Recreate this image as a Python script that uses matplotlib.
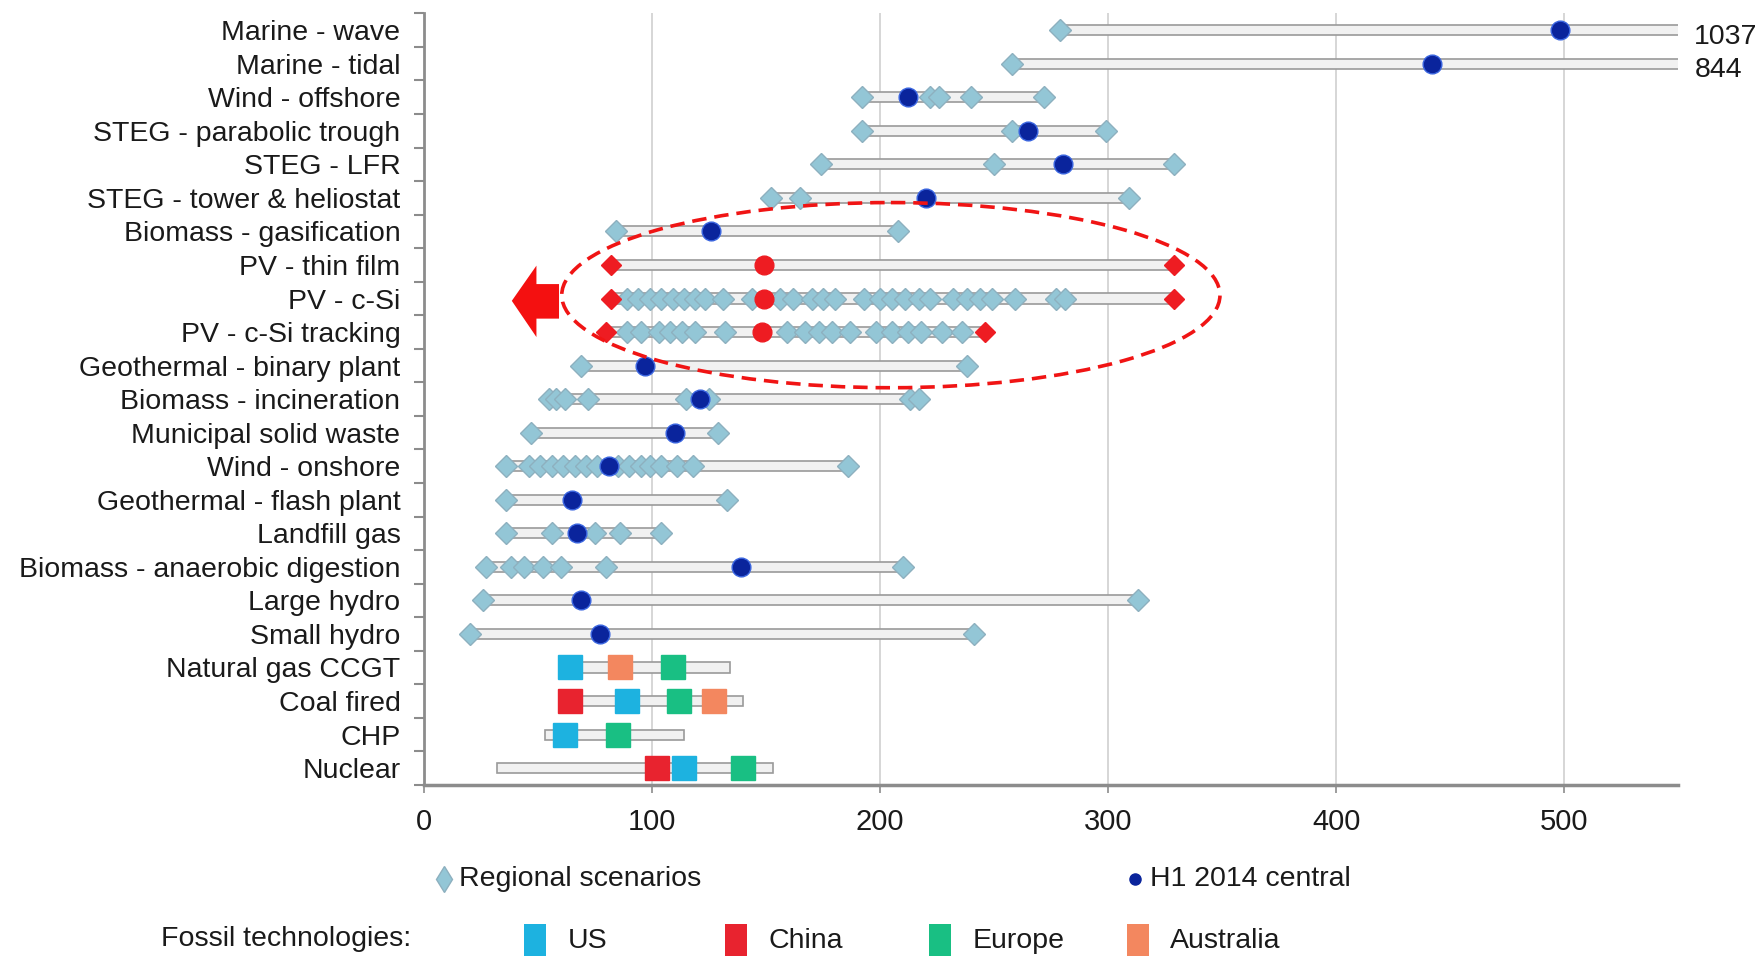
import matplotlib
matplotlib.use("Agg")
import matplotlib.pyplot as plt
from matplotlib.patches import Ellipse, Polygon, Rectangle
from matplotlib.lines import Line2D
import numpy as np

plt.rcParams['font.family'] = ['Liberation Sans', 'DejaVu Sans']

# Technologies, top to bottom
categories = [
    "Marine - wave", "Marine - tidal", "Wind - offshore",
    "STEG - parabolic trough", "STEG - LFR", "STEG - tower & heliostat",
    "Biomass - gasification", "PV - thin film", "PV - c-Si",
    "PV - c-Si tracking", "Geothermal - binary plant",
    "Biomass - incineration", "Municipal solid waste", "Wind - onshore",
    "Geothermal - flash plant", "Landfill gas",
    "Biomass - anaerobic digestion", "Large hydro", "Small hydro",
    "Natural gas CCGT", "Coal fired", "CHP", "Nuclear",
]

# LCOE range per technology ($/MWh)
range_low = [279, 258, 192, 192, 174, 152, 84, 82, 82, 80, 69, 55, 47, 36,
             36, 35, 27, 26, 20, 60, 64, 53, 32]
range_high = [1037, 844, 272, 299, 329, 309, 208, 329, 329, 246, 238, 217,
              129, 186, 133, 104, 210, 313, 241, 134, 140, 114, 153]

# H1 2014 central estimates (renewables only)
central = [498, 442, 212, 265, 280, 220, 126, 149, 149, 148, 97, 121, 110,
           81, 65, 67, 139, 69, 77, None, None, None, None]

# Regional scenario estimates
regional_scenarios = [
    [279],
    [258],
    [192, 222, 226, 240, 272],
    [192, 258, 299],
    [174, 250, 329],
    [152, 165, 309],
    [84, 208],
    [82, 329],
    [82, 89, 94, 99, 104, 109, 114, 119, 123, 131, 144, 156, 162, 170, 175,
     180, 193, 200, 205, 211, 217, 222, 232, 238, 244, 249, 259, 277, 281, 329],
    [80, 89, 95, 103, 108, 113, 119, 132, 159, 167, 173, 179, 187, 198, 205,
     212, 218, 227, 236, 246],
    [69, 238],
    [55, 58, 62, 72, 115, 125, 213, 217],
    [47, 129],
    [36, 46, 51, 56, 61, 66, 71, 76, 85, 90, 95, 99, 104, 111, 118, 186],
    [36, 133],
    [36, 56, 75, 86, 104],
    [27, 38, 44, 52, 60, 80, 210],
    [26, 313],
    [20, 241],
    [], [], [], [],
]

# Solar PV rows are highlighted in red
highlight_rows = ["PV - thin film", "PV - c-Si", "PV - c-Si tracking"]

# Fossil technology costs by region
fossil_categories = ["Natural gas CCGT", "Coal fired", "CHP", "Nuclear"]
fossil_us = [64, 89, 62, 114]
fossil_china = [None, 64, None, 102]
fossil_europe = [109, 112, 85, 140]
fossil_australia = [86, 127, None, None]

# Values beyond the axis limit, printed at the bar end
clipped_labels = ["1037", "844"]

c_diamond = "#93c6d6"
c_diamond_edge = "#8db0bf"
c_central = "#0a249c"
c_red = "#ee1c22"
c_us = "#1db2e0"
c_china = "#e8232f"
c_europe = "#19bf83"
c_aus = "#f3875f"

FS = 20.5

fig = plt.figure(figsize=(17.63, 9.56), dpi=100)
ax = fig.add_axes([0.2405, 0.179, 0.7115, 0.807])

y = np.arange(len(categories))
ax.set_xlim(0, 550)
ax.set_ylim(len(categories) - 0.5, -0.5)

# range bars
ax.barh(y, np.array(range_high) - np.array(range_low), left=range_low,
        height=0.3, color="#f1f1f1", edgecolor="#9a9a9a", linewidth=1.2,
        zorder=2)

for i, cat in enumerate(categories):
    pts = regional_scenarios[i]
    if not pts:
        continue
    if cat in highlight_rows:
        inner = [p for p in pts if p not in (min(pts), max(pts))]
        ax.plot(inner, [i] * len(inner), ls="none", marker="D", ms=11,
                mfc=c_diamond, mec=c_diamond_edge, mew=1, zorder=3)
        ax.plot([min(pts), max(pts)], [i, i], ls="none", marker="D", ms=10.5,
                mfc=c_red, mec=c_red, zorder=4)
    else:
        ax.plot(pts, [i] * len(pts), ls="none", marker="D", ms=11,
                mfc=c_diamond, mec=c_diamond_edge, mew=1, zorder=3)

for i, cat in enumerate(categories):
    c = central[i]
    if c is None:
        continue
    col = c_red if cat in highlight_rows else c_central
    ax.plot([c], [i], ls="none", marker="o", ms=13.5, mfc=col,
            mec="#3b66e0" if col == c_central else col, mew=1, zorder=5)

# fossil markers
for vals, col in [(fossil_us, c_us), (fossil_china, c_china),
                  (fossil_europe, c_europe), (fossil_australia, c_aus)]:
    for k, cat in enumerate(fossil_categories):
        if vals[k] is None:
            continue
        ax.plot([vals[k]], [categories.index(cat)], ls="none", marker="s",
                ms=17, mfc=col, mec=col, zorder=5)

# values off the chart
for k, lab in enumerate(clipped_labels):
    ax.text(557, k + 0.2, lab, fontsize=FS, ha="left", va="center",
            color="#1a1a1a", clip_on=False)

# axes styling
for s in ["top", "right"]:
    ax.spines[s].set_visible(False)
ax.spines["left"].set_color("#8c8c8c")
ax.spines["left"].set_linewidth(2)
ax.spines["bottom"].set_color("#8c8c8c")
ax.spines["bottom"].set_linewidth(2.5)

ax.set_yticks(y)
ax.set_yticklabels(categories, fontsize=FS, color="#1a1a1a")
ax.tick_params(axis="y", which="major", length=0, pad=17)
ax.set_yticks(np.arange(-0.5, len(categories), 1.0), minor=True)
ax.tick_params(axis="y", which="minor", length=7, width=1.5,
               color="#8c8c8c", direction="out")

ax.set_xticks([0, 100, 200, 300, 400, 500])
ax.tick_params(axis="x", length=6, width=1.2, color="#8c8c8c",
               labelsize=21, labelcolor="#1a1a1a", pad=11)
ax.grid(axis="x", color="#cfcfcf", linewidth=1.2, zorder=0)
ax.set_axisbelow(True)

# highlight ellipse around solar PV and arrow
ell = Ellipse((204.7, 7.9), 288.6, 5.52, fill=False, edgecolor="#f01414",
              linewidth=2.6, linestyle=(0, (4, 2.2)), zorder=6)
ax.add_patch(ell)
arrow = Polygon([(38.5, 8.07), (49.3, 7.02), (49.3, 7.57), (59.2, 7.57),
                 (59.2, 8.6), (49.3, 8.6), (49.3, 9.15)], closed=True,
                facecolor="#f41010", edgecolor="none", zorder=6,
                clip_on=False)
ax.add_patch(arrow)

# legend area
W, H = 1763.0, 956.0

def fx(px):
    return px / W

def fy(py):
    return 1 - py / H

fig.add_artist(Line2D([fx(444)], [fy(879)], marker="d", ms=13,
                      mfc=c_diamond, mec=c_diamond_edge, ls="none"))
fig.text(fx(459), fy(879), "Regional scenarios", fontsize=FS,
         ha="left", va="center", color="#1a1a1a")
fig.add_artist(Line2D([fx(1135)], [fy(879)], marker="o", ms=8,
                      mfc=c_central, mec=c_central, ls="none"))
fig.text(fx(1150), fy(879), "H1 2014 central", fontsize=FS,
         ha="left", va="center", color="#1a1a1a")

fig.text(fx(161), fy(939), "Fossil technologies:", fontsize=FS,
         ha="left", va="center", color="#1a1a1a")
for name, col, sx, tx in [("US", c_us, 535, 568), ("China", c_china, 736, 769),
                          ("Europe", c_europe, 940, 973),
                          ("Australia", c_aus, 1138, 1170)]:
    fig.add_artist(Rectangle((fx(sx - 11), fy(962)), 22 / W, 38 / H,
                             transform=fig.transFigure, facecolor=col,
                             edgecolor="none"))
    fig.text(fx(tx), fy(941), name, fontsize=FS, ha="left", va="center",
             color="#1a1a1a")

fig.savefig("out.png", dpi=100, facecolor="white")
